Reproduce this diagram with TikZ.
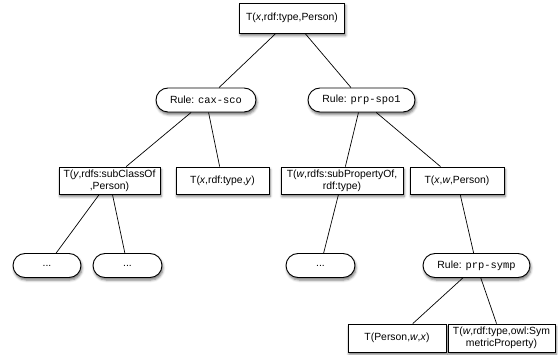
\documentclass[tikz,border=0pt]{standalone}
\usepackage{fontspec}
\setmainfont{Liberation Sans}
\setmonofont{Liberation Mono}
\usetikzlibrary{shapes.misc,shadows.blur}
\begin{document}
\begin{tikzpicture}[x=1pt,y=-1pt,
  every node/.style={font=\fontsize{10.4}{12}\selectfont},
  tbox/.style={draw, fill=white, line width=0.8pt, inner sep=1pt, minimum height=27pt, align=center,
    blur shadow={shadow xshift=1pt, shadow yshift=-2.5pt, shadow blur radius=2.5pt, shadow opacity=55}},
  pill/.style={draw, fill=white, rounded rectangle, line width=0.9pt, minimum height=24pt, inner sep=1pt,
    blur shadow={shadow xshift=1pt, shadow yshift=-2.5pt, shadow blur radius=2.5pt, shadow opacity=55}},
  edge/.style={line width=0.7pt}]
\useasboundingbox (0,0) rectangle (558,355);
% nodes
\node[tbox, minimum width=105pt, minimum height=30pt] (top) at (292,18) {T(\textit{x},rdf:type,Person)};
\node[pill, minimum width=102pt] (r1) at (206,100) {Rule: \texttt{cax-sco}};
\node[pill, minimum width=109pt] (r2) at (361.5,100) {Rule: \texttt{prp-spo1}};
\node[tbox, minimum width=101pt] (a) at (109.5,180.5) {T(\textit{y},rdfs:subClassOf\\,Person)};
\node[tbox, minimum width=93pt] (b) at (222.5,180.5) {T(\textit{x},rdf:type,\textit{y})};
\node[tbox, minimum width=122pt] (c) at (342,180.5) {T(\textit{w},rdfs:subPropertyOf,\\rdf:type)};
\node[tbox, minimum width=94pt] (d) at (457,180.5) {T(\textit{x},\textit{w},Person)};
\node[pill, minimum width=70pt] (p1) at (47,265.5) {...};
\node[pill, minimum width=71pt] (p2) at (127.5,265.5) {...};
\node[pill, minimum width=71pt] (p3) at (320.5,265.5) {...};
\node[pill, minimum width=109pt] (r3) at (476.5,265.5) {Rule: \texttt{prp-symp}};
\node[tbox, minimum width=98pt, minimum height=28pt] (e) at (397,338) {T(Person,\textit{w},\textit{x})};
\node[tbox, minimum width=107pt, minimum height=28pt] (f) at (501.5,338) {T(\textit{w},rdf:type,owl:Sym\\metricProperty)};
% edges
\draw[edge] (top) -- (r1);
\draw[edge] (top) -- (r2);
\draw[edge] (r1) -- (a);
\draw[edge] (r1) -- (b);
\draw[edge] (r2) -- (c);
\draw[edge] (r2) -- (d);
\draw[edge] (a) -- (p1);
\draw[edge] (a) -- (p2);
\draw[edge] (c) -- (p3);
\draw[edge] (d) -- (r3);
\draw[edge] (r3) -- (e);
\draw[edge] (r3) -- (f);
\end{tikzpicture}
\end{document}
